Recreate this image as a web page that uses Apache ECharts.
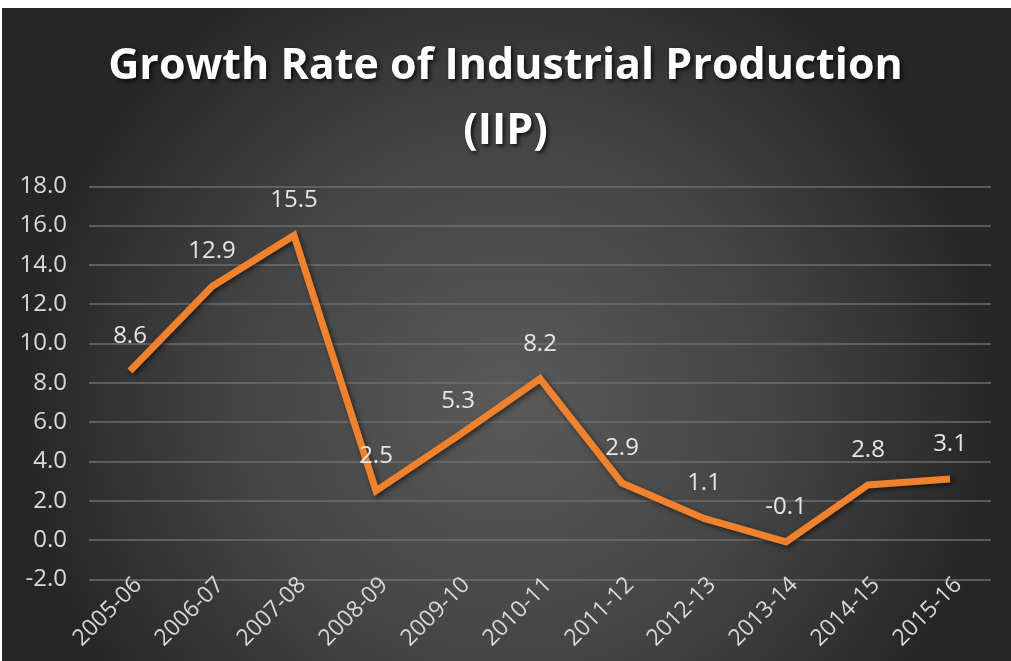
<!DOCTYPE html>
<html>
<head>
<meta charset="utf-8">
<script src="https://cdn.jsdelivr.net/npm/echarts@6/dist/echarts.min.js"></script>
<style>
html,body{margin:0;padding:0;background:#ffffff;}
#chart{position:absolute;left:0;top:0;width:1011px;height:661px;}
</style>
</head>
<body>
<div id="chart"></div>
<script>
const categories = ['2005-06','2006-07','2007-08','2008-09','2009-10','2010-11','2011-12','2012-13','2013-14','2014-15','2015-16'];
const iipGrowth = [8.6, 12.9, 15.5, 2.5, 5.3, 8.2, 2.9, 1.1, -0.1, 2.8, 3.1];
const titleLines = ['Growth Rate of Industrial Production', '(IIP)'];
const yMin = -2, yMax = 18, yStep = 2;

const chart = echarts.init(document.getElementById('chart'), null, {renderer: 'canvas'});
const font = '"Open Sans", Lato, sans-serif';
chart.setOption({
  backgroundColor: '#ffffff',
  animation: false,
  graphic: [
    {
      type: 'rect', z: -10, silent: true,
      shape: {x: 2, y: 8, width: 1009, height: 653},
      style: {
        fill: {
          type: 'radial', x: 0.5, y: 0.6, r: 0.75,
          colorStops: [
            {offset: 0, color: '#5a5a5a'},
            {offset: 0.55, color: '#444444'},
            {offset: 1, color: '#262626'}
          ]
        }
      }
    }
  ],
  title: {
    text: titleLines.join('\n'),
    left: 'center',
    top: 29,
    textStyle: {
      color: '#ffffff',
      fontFamily: font,
      fontWeight: 'bold',
      fontSize: 43,
      lineHeight: 65,
      textShadowColor: 'rgba(0,0,0,0.8)',
      textShadowBlur: 4,
      textShadowOffsetX: 2,
      textShadowOffsetY: 2
    }
  },
  grid: {left: 89, right: 20, top: 186.3, bottom: 81.7, containLabel: false},
  xAxis: {
    type: 'category',
    data: categories,
    boundaryGap: true,
    axisLine: {show: false},
    axisTick: {show: false},
    axisLabel: {
      rotate: 45,
      margin: -6,
      interval: 0,
      color: '#d9d9d9',
      fontFamily: font,
      fontSize: 23,
      align: 'right',
      verticalAlign: 'top'
    }
  },
  yAxis: {
    type: 'value',
    min: yMin, max: yMax, interval: yStep,
    axisLine: {show: false},
    axisTick: {show: false},
    axisLabel: {
      margin: 22,
      color: '#d9d9d9',
      fontFamily: font,
      fontSize: 24,
      formatter: v => v.toFixed(1)
    },
    splitLine: {lineStyle: {color: '#6e6e6e', width: 1.5}}
  },
  series: [{
    type: 'line',
    data: iipGrowth,
    symbol: 'circle',
    symbolSize: 2,
    showSymbol: true,
    itemStyle: {color: 'rgba(240,129,45,0)', borderWidth: 0},
    lineStyle: {
      color: '#f0812d',
      width: 7,
      join: 'miter',
      shadowColor: 'rgba(0,0,0,0.55)',
      shadowBlur: 5,
      shadowOffsetX: 2,
      shadowOffsetY: 2
    },
    label: {
      show: true,
      position: 'top',
      distance: 22,
      color: '#e6e6e6',
      fontFamily: font,
      fontSize: 24,
      formatter: p => p.value.toFixed(1)
    }
  }]
});
</script>
</body>
</html>
